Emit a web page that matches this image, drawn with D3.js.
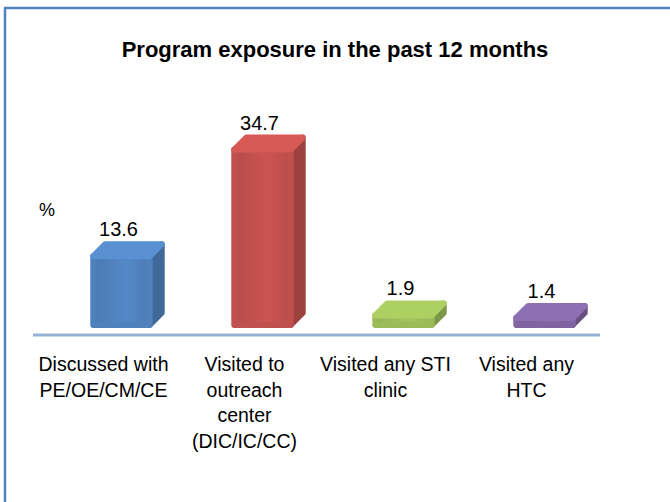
<!DOCTYPE html>
<html lang="en">
<head>
  <meta charset="UTF-8">
  <title>Program exposure in the past 12 months</title>
  <script src="https://d3js.org/d3.v7.min.js"></script>
  <style>
    body { margin: 0; background: #fff; }
    text { font-family: "Liberation Sans", Arial, sans-serif; fill: #000; }
  </style>
</head>
<body>
  <svg id="chart"></svg>
  <script>
    // chart data
    const categories = ["Discussed with PE/OE/CM/CE", "Visited to outreach center (DIC/IC/CC)", "Visited any STI clinic", "Visited any HTC"];
    const labelLines = [["Discussed with", "PE/OE/CM/CE"], ["Visited to", "outreach", "center", "(DIC/IC/CC)"], ["Visited any STI", "clinic"], ["Visited any", "HTC"]];
    const values = [13.6, 34.7, 1.9, 1.4];
    const colors = ["#4f81bd", "#c0504d", "#9bbb59", "#8064a2"];

    const width = 670, height = 502;
    const depth = 12; // 3d offset of the bars

    const svg = d3.select("#chart").attr("width", width).attr("height", height);

    // frame (only top and left edges show)
    svg.append("line").attr("x1", 4).attr("x2", width).attr("y1", 8).attr("y2", 8)
      .attr("stroke", "#4f81bd").attr("stroke-width", 2.5);
    svg.append("line").attr("x1", 5).attr("x2", 5).attr("y1", 8).attr("y2", height)
      .attr("stroke", "#4f81bd").attr("stroke-width", 2.5);

    svg.append("text").attr("x", 335).attr("y", 57).attr("text-anchor", "middle")
      .attr("font-size", "22px").attr("font-weight", "bold")
      .text("Program exposure in the past 12 months");

    // scales: labels sit on the front plane, bars are shifted back by the perspective
    const xLabel = d3.scaleBand().domain(categories).range([33, 597]).paddingInner(0.6).paddingOuter(0.3);
    const xBar = d3.scaleBand().domain(categories).range([51, 615]).paddingInner(0.6).paddingOuter(0.3);
    const y = d3.scaleLinear().domain([0, 35]).range([325, 148]);

    // floor line
    svg.append("line").attr("x1", 33).attr("x2", 600).attr("y1", 335).attr("y2", 335)
      .attr("stroke", "#95b3d7").attr("stroke-width", 3);

    svg.append("text").attr("x", 39).attr("y", 216).attr("font-size", "18px").text("%");

    const defs = svg.append("defs");
    colors.forEach((c, i) => {
      const g = defs.append("linearGradient").attr("id", "front" + i).attr("x1", 0).attr("x2", 1);
      g.append("stop").attr("offset", 0).attr("stop-color", d3.color(c).darker(0.15));
      g.append("stop").attr("offset", 0.6).attr("stop-color", d3.color(c).brighter(0.15));
      g.append("stop").attr("offset", 1).attr("stop-color", d3.color(c).darker(0.1));
    });

    const bars = svg.selectAll(".bar").data(categories).enter().append("g").attr("class", "bar");

    // right side face
    bars.append("path")
      .attr("d", (d, i) => {
        const x1 = xBar(d) + xBar.bandwidth(), y0 = y(0), y1 = y(values[i]);
        return `M${x1},${y0} L${x1 + depth},${y0 - depth} L${x1 + depth},${y1 - depth} L${x1},${y1} Z`;
      })
      .attr("fill", (d, i) => d3.color(colors[i]).darker(0.6))
      .attr("stroke", (d, i) => d3.color(colors[i]).darker(0.6))
      .attr("stroke-width", 6).attr("stroke-linejoin", "round");

    // front face
    bars.append("path")
      .attr("d", (d, i) => {
        const x0 = xBar(d), x1 = x0 + xBar.bandwidth(), y0 = y(0), y1 = y(values[i]);
        return `M${x0},${y0} L${x1},${y0} L${x1},${y1} L${x0},${y1} Z`;
      })
      .attr("fill", (d, i) => `url(#front${i})`)
      .attr("stroke", (d, i) => colors[i])
      .attr("stroke-width", 6).attr("stroke-linejoin", "round");

    // top face
    bars.append("path")
      .attr("d", (d, i) => {
        const x0 = xBar(d), x1 = x0 + xBar.bandwidth(), y1 = y(values[i]);
        return `M${x0},${y1} L${x1},${y1} L${x1 + depth},${y1 - depth} L${x0 + depth},${y1 - depth} Z`;
      })
      .attr("fill", (d, i) => d3.color(colors[i]).brighter(0.3))
      .attr("stroke", (d, i) => d3.color(colors[i]).brighter(0.3))
      .attr("stroke-width", 6).attr("stroke-linejoin", "round");

    // value labels
    bars.append("text")
      .attr("x", d => xBar(d) + xBar.bandwidth() / 2 - 3)
      .attr("y", (d, i) => y(values[i]) - depth - 8)
      .attr("text-anchor", "middle").attr("font-size", "20px")
      .text((d, i) => values[i]);

    // category labels
    const lbl = svg.selectAll(".cat").data(categories).enter().append("text")
      .attr("class", "cat").attr("text-anchor", "middle").attr("font-size", "19.5px")
      .attr("x", d => xLabel(d) + xLabel.bandwidth() / 2)
      .attr("y", 371);
    lbl.selectAll("tspan").data((d, i) => labelLines[i]).enter().append("tspan")
      .attr("x", function () { return this.parentNode.getAttribute("x"); })
      .attr("dy", (d, i) => i === 0 ? 0 : 25.5)
      .text(d => d);
  </script>
</body>
</html>
